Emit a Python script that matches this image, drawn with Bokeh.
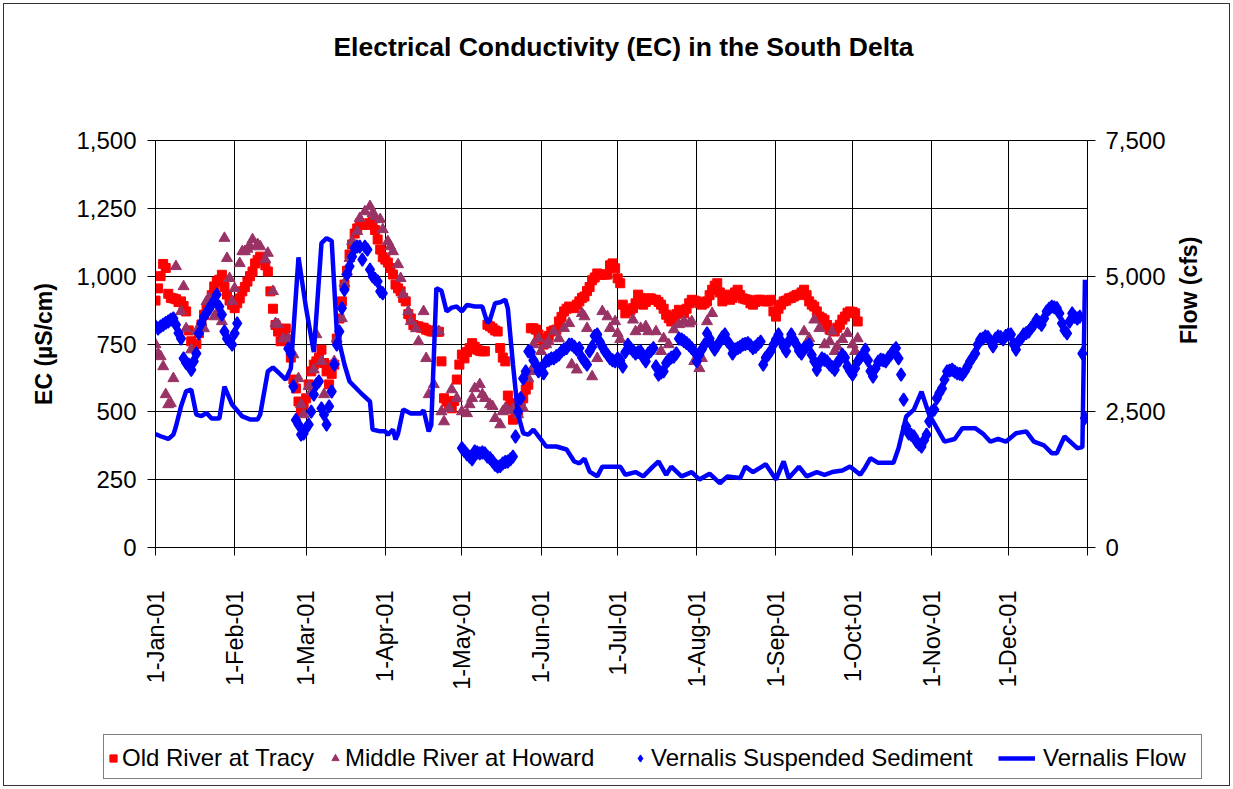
import math
from bokeh.plotting import figure
from bokeh.layouts import column
from bokeh.models import (Range1d, LinearAxis, FixedTicker, NumeralTickFormatter,
                          Legend, LegendItem, Label)
from bokeh.embed import file_html
from bokeh.resources import INLINE

FONT = "Liberation Sans"

# ---------------- data (day of year 2001, 0 = 1-Jan-01) ----------------
month_days = [0, 31, 59, 90, 120, 151, 181, 212, 243, 273, 304, 334, 365]
month_labels = ["1-Jan-01", "1-Feb-01", "1-Mar-01", "1-Apr-01", "1-May-01", "1-Jun-01",
                "1-Jul-01", "1-Aug-01", "1-Sep-01", "1-Oct-01", "1-Nov-01", "1-Dec-01", ""]
ec_ticks = [0, 250, 500, 750, 1000, 1250, 1500]
flow_ticks = [0, 2500, 5000, 7500]

# Old River at Tracy, daily EC from 1-Jan (uS/cm)
tracy_start = 0
tracy_ec = [
    910, 955, 1000, 1045, 1030, 935, 920, 918, 915, 905, 907, 890, 870, 800, 760, 748, 750, 790, 822, 858,
    880, 895, 930, 962, 980, 987, 1005, 960, 932, 910, 895, 882, 900, 918, 944, 960, 980, 1000, 1017, 1047,
    1060, 1072, 1066, 1040, 1017, 944, 880, 820, 796, 760, 780, 807, 767, 700, 619, 586, 538, 501, 527, 550,
    601, 649, 674, 686, 700, 729, 680, 649, 601, 640, 674, 770, 844, 907, 969, 1020, 1080, 1117, 1157, 1176,
    1194, 1194, 1189, 1190, 1195, 1200, 1170, 1135, 1098, 1070, 1061, 1050, 1030, 1006, 969, 955, 944, 920, 907, 860,
    844, 820, 815, 815, 810, 810, 803, 800, 796, 796, 796, 795, 686, 550, 538, 525, 513, 540, 619, 674,
    711, 697, 720, 735, 753, 740, 729, 725, 723, 723, 821, 815, 808, 800, 796, 735, 700, 686, 560, 532,
    471, 483, 500, 526, 550, 582, 600, 808, 808, 803, 785, 770, 748, 760, 780, 796, 800, 803, 833, 850,
    870, 880, 888, 885, 882, 895, 907, 920, 925, 945, 960, 985, 995, 1010, 1005, 1006, 1006, 1006, 1040, 1047,
    1029, 992, 974, 895, 863, 870, 875, 882, 900, 932, 920, 895, 905, 918, 918, 913, 913, 905, 895, 880,
    858, 845, 833, 851, 860, 876, 870, 863, 880, 900, 913, 910, 907, 900, 895, 900, 907, 930, 950, 965,
    974, 940, 907, 920, 932, 913, 920, 940, 950, 930, 918, 915, 913, 900, 895, 905, 913, 913, 910, 907,
    907, 913, 870, 851, 880, 895, 907, 910, 918, 920, 925, 930, 932, 940, 950, 930, 907, 895, 888, 870,
    851, 845, 839, 820, 803, 800, 796, 810, 821, 840, 851, 865, 870, 868, 863, 833,
]

# Middle River at Howard (day, EC)
howard = [
    (0, 748), (1, 715), (2, 704), (3, 667), (4, 564), (5, 527), (6, 531), (7, 623), (8, 1036), (10, 870),
    (11, 962), (12, 807), (14, 729), (16, 796), (18, 830), (19, 807), (20, 907), (21, 918), (23, 851), (24, 863),
    (26, 833), (27, 1140), (28, 1066), (29, 992), (30, 907), (31, 955), (33, 1047), (34, 1091), (35, 1091), (36, 1100),
    (37, 1109), (38, 1135), (40, 1117), (41, 1109), (43, 1061), (44, 1085), (46, 944), (47, 826), (48, 822), (50, 770),
    (52, 770), (54, 711), (56, 623), (57, 527), (58, 490), (60, 594), (61, 575), (62, 655), (63, 785), (65, 686),
    (66, 564), (70, 686), (71, 770), (73, 844), (74, 974), (75, 1017), (76, 1066), (77, 1128), (79, 1165), (80, 1213),
    (82, 1238), (84, 1257), (85, 1231), (86, 1220), (88, 1209), (89, 1172), (91, 1128), (92, 1109), (93, 1091), (95, 1043),
    (96, 992), (97, 932), (99, 870), (100, 833), (102, 807), (103, 759), (105, 870), (106, 697), (107, 564), (109, 601),
    (111, 796), (112, 501), (113, 464), (115, 513), (116, 582), (118, 550), (120, 501), (122, 494), (123, 527), (124, 550),
    (125, 586), (127, 601), (128, 564), (129, 550), (131, 527), (132, 520), (133, 476), (135, 453), (136, 501), (137, 513),
    (138, 505), (140, 510), (142, 490), (144, 513), (146, 623), (147, 649), (148, 748), (150, 770), (151, 723), (153, 748),
    (154, 759), (156, 796), (158, 770), (160, 808), (162, 826), (163, 674), (165, 655), (167, 863), (168, 851), (169, 808),
    (171, 630), (173, 697), (175, 870), (177, 851), (178, 808), (180, 833), (181, 789), (182, 767), (187, 839), (188, 796),
    (190, 808), (192, 815), (193, 796), (196, 796), (198, 723), (199, 770), (201, 748), (203, 803), (205, 822), (207, 833),
    (209, 825), (210, 833), (211, 686), (213, 660), (214, 697), (216, 833), (218, 863), (254, 796), (256, 770), (258, 839),
    (260, 808), (262, 748), (264, 759), (265, 796), (266, 723), (267, 740), (269, 767), (271, 789), (273, 748), (274, 723),
    (275, 770),
]

# Vernalis Suspended Sediment, daily runs: (first day, values)
sed_jan_start = 0
sed_jan = [815, 807, 815, 821, 828, 833, 840, 844, 821, 790, 770, 697, 680, 674, 655, 686, 715, 789, 826, 851,
           865, 880, 895, 910, 932, 888, 858, 796, 770, 760, 748, 789, 826]
sed_mar_start = 52
sed_mar = [733, 715, 594, 470, 453, 416, 420, 440, 453, 501, 564, 601, 612, 513, 490, 453, 520, 575, 674, 748,
           796, 882, 950, 1006, 1036, 1072, 1103, 1109, 1109, 1061, 1109, 1098, 1024, 999, 990, 981, 944, 937]
sed_may_start = 120
sed_may = [
    366, 355, 343, 335, 325, 354, 350, 347, 350, 347, 335, 329, 318, 305, 298, 300, 310, 315, 317, 325,
    335, 409, 501, 550, 623, 649, 723, 720, 690, 674, 649, 660, 642, 686, 690, 697, 697, 705, 711, 723,
    730, 735, 748, 748, 740, 729, 735, 700, 686, 674, 723, 740, 780, 785, 759, 740, 723, 711, 697, 690,
    686, 697, 690, 667, 720, 748, 735, 725, 715, 720, 723, 700, 686, 715, 725, 735, 667, 637, 645, 649,
    680, 692, 700, 704, 715, 770, 767, 760, 753, 745, 735, 723, 686, 711, 730, 748, 789, 770, 745, 729,
    745, 759, 775, 785, 760, 748, 715, 730, 735, 740, 748, 750, 753, 745, 735, 740, 750, 759, 674, 700,
    711, 725, 748, 767, 785, 760, 740, 723, 760, 785, 765, 748, 725, 715, 735, 740, 748, 710, 686, 655,
    680, 697, 692, 686, 674, 665, 655, 680, 692, 711, 700, 667, 650, 637, 660, 686, 700, 711, 729, 690,
    650, 630, 660, 685, 692, 690, 686, 700, 711, 725, 735, 697, 637, 545, 446, 420, 415, 409, 390, 380,
    372, 395, 416, 465, 501, 508, 550, 570, 586, 619, 649, 652, 655, 648, 642, 640, 637, 650, 667, 686,
    700, 715, 748, 767, 770, 778, 775, 760, 741, 770, 778, 775, 767, 780, 785, 785, 750, 729, 760, 770,
    785, 790, 796, 810, 821, 839, 830, 821, 844, 870, 880, 888, 885, 882, 863, 826, 800, 789, 833, 863,
    850, 844, 851, 715, 477,
]

# Vernalis Flow (day, cfs)
flow = [
    (0, 2090), (2, 2050), (5, 2000), (7, 2080), (8, 2230), (10, 2600), (12, 2880), (14, 2910), (16, 2450), (18, 2420),
    (20, 2480), (22, 2375), (25, 2375), (27, 2966), (30, 2635), (34, 2415), (37, 2360), (40, 2360), (41, 2450), (44, 3245),
    (46, 3317), (48, 3230), (51, 3095), (53, 3300), (56, 5345), (59, 4400), (62, 3600), (65, 5608), (67, 5700), (69, 5650),
    (71, 3980), (74, 3372), (76, 3059), (81, 2820), (84, 2690), (85, 2175), (88, 2140), (90, 2140), (91, 2077), (93, 2175),
    (94, 1990), (95, 2100), (97, 2544), (100, 2470), (104, 2470), (105, 2530), (107, 2140), (108, 2260), (110, 4779), (112, 4730),
    (114, 4350), (116, 4420), (118, 4440), (120, 4350), (122, 4472), (125, 4440), (128, 4440), (130, 4134), (131, 4200), (133, 4502),
    (135, 4520), (137, 4567), (138, 4400), (140, 3372), (142, 2447), (144, 2106), (146, 2080), (148, 2172), (151, 1990), (153, 1861),
    (157, 1861), (161, 1806), (164, 1585), (166, 1550), (168, 1640), (170, 1400), (173, 1310), (175, 1490), (182, 1490), (184, 1340),
    (188, 1390), (191, 1310), (195, 1500), (197, 1585), (200, 1340), (202, 1490), (206, 1310), (210, 1390), (213, 1253), (217, 1360),
    (221, 1185), (224, 1310), (229, 1280), (231, 1490), (234, 1390), (239, 1535), (243, 1253), (246, 1585), (248, 1280), (252, 1490),
    (255, 1310), (259, 1390), (262, 1340), (265, 1390), (269, 1420), (272, 1492), (276, 1340), (278, 1480), (280, 1646), (283, 1560),
    (289, 1560), (291, 1830), (294, 2414), (297, 2540), (300, 2870), (303, 2447), (306, 2199), (309, 1950), (313, 2000), (316, 2199),
    (321, 2199), (324, 2100), (327, 1950), (330, 2000), (333, 1950), (337, 2106), (341, 2140), (344, 1950), (348, 1880), (351, 1738),
    (353, 1738), (356, 2045), (361, 1830), (363, 1850), (364, 4934),
]

TITLE = "Electrical Conductivity (EC) in the South Delta"
RED, PURPLE, BLUE = "#FF0000", "#993366", "#0000FF"

# ---------------- derived columns ----------------
tracy_day = list(range(tracy_start, tracy_start + len(tracy_ec)))
howard_day = [d for d, _ in howard]
howard_ec = [v for _, v in howard]
sed_day, sed_ec = [], []
for start, vals in [(sed_jan_start, sed_jan), (sed_mar_start, sed_mar), (sed_may_start, sed_may)]:
    sed_day += list(range(start, start + len(vals)))
    sed_ec += vals
flow_day = [d for d, _ in flow]
flow_cfs = [v for _, v in flow]

W, HT, H1, H2 = 1225, 100, 626, 55


def strip(height):
    f = figure(width=W, height=height, output_backend="svg", toolbar_location=None,
               x_range=Range1d(0, W), y_range=Range1d(0, height),
               x_axis_location=None, y_axis_location=None,
               min_border_left=0, min_border_right=0, min_border_top=0, min_border_bottom=0,
               background_fill_color="white", border_fill_color="white", outline_line_color=None)
    f.xgrid.visible = False
    f.ygrid.visible = False
    return f


# ---------------- title strip ----------------
tf = strip(HT)
tf.add_layout(Label(x=619, y=57.5, text=TITLE, text_align="center", text_baseline="middle",
                    text_font=FONT, text_font_size="26.5px", text_font_style="bold",
                    text_color="black"))

# ---------------- main chart ----------------
p = figure(width=W, height=H1, output_backend="svg", toolbar_location=None,
           x_range=Range1d(0, 365), y_range=Range1d(0, 1500),
           min_border_left=151, min_border_right=142, min_border_top=36, min_border_bottom=183,
           background_fill_color="white", border_fill_color="white")
p.title.text = ""

p.outline_line_color = "black"
p.outline_line_width = 1
p.outline_line_alpha = 1

p.extra_y_ranges = {"flow": Range1d(0, 7500)}
ax2 = LinearAxis(y_range_name="flow")
p.add_layout(ax2, "right")

xa = p.xaxis[0]
ya = p.yaxis[0]
xa.ticker = FixedTicker(ticks=month_days)
xa.major_label_overrides = {d: lab for d, lab in zip(month_days, month_labels)}
xa.major_label_orientation = math.pi / 2
xa.major_label_text_font_size = "23.5px"
xa.major_label_standoff = 35

ya.ticker = FixedTicker(ticks=ec_ticks)
ya.formatter = NumeralTickFormatter(format="0,0")
ya.axis_label = "EC (µS/cm)"
ya.major_label_standoff = 11
ya.axis_label_standoff = 16

ax2.ticker = FixedTicker(ticks=flow_ticks)
ax2.formatter = NumeralTickFormatter(format="0,0")
ax2.axis_label = "Flow (cfs)"
ax2.major_label_standoff = 10
ax2.axis_label_standoff = 20
if "axis_label_orientation" in ax2.properties():
    ax2.axis_label_orientation = math.pi / 2

for ax in (xa, ya, ax2):
    ax.axis_line_color = "black"
    ax.axis_line_width = 1
    ax.major_tick_line_color = "black"
    ax.major_tick_in = 0
    ax.major_tick_out = 8
    ax.minor_tick_line_color = None
    ax.major_label_text_font = FONT
    ax.major_label_text_color = "black"
    ax.axis_label_text_font = FONT
    ax.axis_label_text_font_size = "23px"
    ax.axis_label_text_font_style = "bold"
    ax.axis_label_text_color = "black"
for ax in (ya, ax2):
    ax.major_label_text_font_size = "24px"

p.xgrid.ticker = FixedTicker(ticks=month_days)
p.ygrid.ticker = FixedTicker(ticks=ec_ticks)
for g in (p.xgrid[0], p.ygrid[0]):
    g.grid_line_color = "black"
    g.grid_line_alpha = 1
    g.grid_line_width = 1

p.scatter(tracy_day, tracy_ec, marker="square", size=9, fill_color=RED, line_color=RED)
p.scatter(howard_day, howard_ec, marker="triangle", size=11, fill_color=PURPLE, line_color=PURPLE)
p.scatter(sed_day, sed_ec, marker="diamond", size=13, line_width=1.5, fill_color=BLUE, line_color=BLUE)
p.line(flow_day, flow_cfs, y_range_name="flow", line_color=BLUE, line_width=4.5)

# ---------------- legend strip ----------------
lf = strip(H2)

# legend-only glyphs, kept outside the visible range of the strip
OFF = [-500, -499]
l_box = lf.scatter(OFF, OFF, fill_alpha=0, line_alpha=0)
l_tracy = lf.scatter(OFF, OFF, marker="square", fill_color=RED, line_color=RED)
l_howard = lf.scatter(OFF, OFF, marker="triangle", fill_color=PURPLE, line_color=PURPLE)
l_sed = lf.scatter(OFF, OFF, marker="diamond", fill_color=BLUE, line_color=BLUE)
l_flow = lf.line(OFF, OFF, line_color=BLUE, line_width=4.5)

box = Legend(items=[LegendItem(label=" ", renderers=[l_box])],
             location=(99, 6), orientation="horizontal",
             glyph_width=1, glyph_height=43, label_width=1096, label_height=43,
             label_standoff=0, padding=0, margin=0, spacing=0,
             border_line_color="black", border_line_width=1,
             background_fill_color="white", background_fill_alpha=1,
             label_text_font=FONT, label_text_font_size="24px")
lf.add_layout(box)


def entry(label, rend, vx, gw, standoff):
    lg = Legend(items=[LegendItem(label=label, renderers=[rend])],
                location=(vx, 13), orientation="horizontal",
                glyph_width=gw, glyph_height=28, label_height=28, label_width=10,
                label_standoff=standoff, padding=0, margin=0, spacing=0,
                border_line_color=None, background_fill_alpha=0,
                label_text_font=FONT, label_text_font_size="24px", label_text_color="black")
    lf.add_layout(lg)


entry("Old River at Tracy", l_tracy, 100, 18, 0)
entry("Middle River at Howard", l_howard, 322, 18, 1)
entry("Vernalis Suspended Sediment", l_sed, 627, 18, 2)
entry("Vernalis Flow", l_flow, 994, 37, 8)

for fig in (tf, p, lf):
    if "frame_align" in fig.properties():
        fig.frame_align = False

layout = column(tf, p, lf, spacing=0,
                styles={"border": "1px solid #333333", "margin": "3px 0 0 3px"})

open("out.html", "w").write(file_html(layout, INLINE))
